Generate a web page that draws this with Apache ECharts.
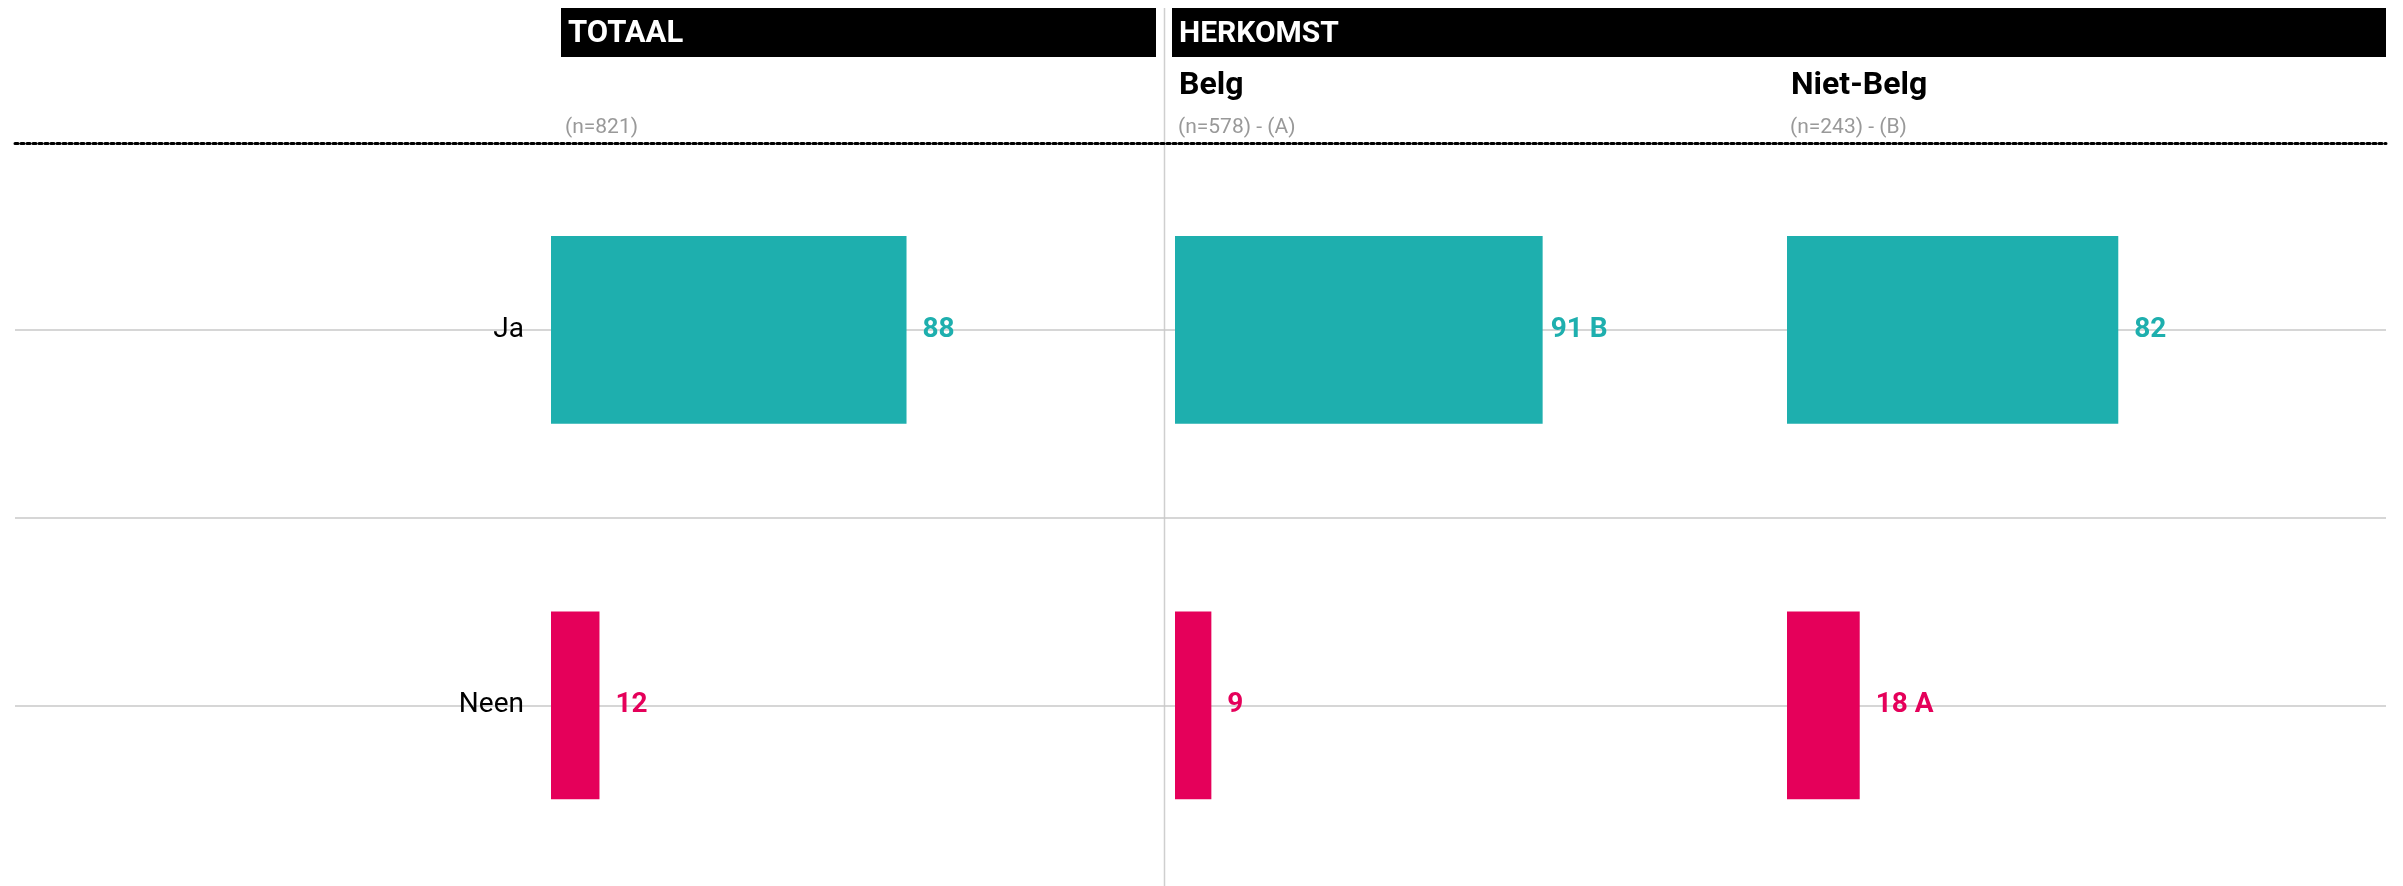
<!DOCTYPE html>
<html>
<head>
<meta charset="utf-8">
<script src="https://cdn.jsdelivr.net/npm/echarts@6/dist/echarts.min.js"></script>
<style>
html,body{margin:0;padding:0;background:#fff;}
#chart{width:2403px;height:886px;}
</style>
</head>
<body>
<div id="chart"></div>
<script>
// ---- data ----
const categories = ['Ja', 'Neen'];
const panelTitles = ['', 'Belg', 'Niet-Belg'];
const panelSubtitles = ['(n=821)', '(n=578) - (A)', '(n=243) - (B)'];
const groupHeaders = ['TOTAAL', 'HERKOMST'];
const totaalValues = [88, 12];
const belgValues = [91, 9];
const nietBelgValues = [82, 18];
const totaalSig = ['', ''];
const belgSig = ['B', ''];
const nietBelgSig = ['', 'A'];

// ---- style ----
const FONT = 'Roboto, "Noto Sans", sans-serif';
const catColors = ['#1EAFAE', '#E5005A'];
const panelLefts = [551, 1175, 1787];
const panelWidth = 404;
const gridTop = 142, gridHeight = 751;

const panels = [
  {values: totaalValues, sig: totaalSig},
  {values: belgValues, sig: belgSig},
  {values: nietBelgValues, sig: nietBelgSig}
];

const grids = [{left: 15, width: 2371, top: gridTop, height: gridHeight, outerBoundsMode: 'none', containLabel: false}];
const xAxes = [{
  gridIndex: 0, type: 'value', position: 'top', min: 0, max: 1, offset: -1.5,
  axisLine: {show: true, lineStyle: {color: '#000', width: 3, type: [3, 3]}},
  axisTick: {show: false}, axisLabel: {show: false}, splitLine: {show: false}
}];
const yAxes = [{
  gridIndex: 0, type: 'value', min: 0, max: 4, interval: 1, inverse: true,
  axisLine: {show: false}, axisTick: {show: false}, axisLabel: {show: false},
  splitLine: {show: true, showMinLine: false, showMaxLine: false, lineStyle: {color: '#c8c8c8', width: 1.5}}
}];
const series = [];

panels.forEach((p, i) => {
  const gi = i + 1;
  grids.push({left: panelLefts[i], width: panelWidth, top: gridTop, height: gridHeight, outerBoundsMode: 'none', containLabel: false});
  xAxes.push({gridIndex: gi, type: 'value', min: 0, max: 100, show: false});
  yAxes.push({
    gridIndex: gi, type: 'category', data: categories, inverse: true,
    axisLine: {show: false}, axisTick: {show: false}, splitLine: {show: false},
    axisLabel: {show: i === 0, color: '#000', fontSize: 28, fontFamily: FONT, margin: 27}
  });
  series.push({
    type: 'bar', xAxisIndex: gi, yAxisIndex: gi, barWidth: '50%',
    data: p.values.map((v, k) => ({
      value: v,
      itemStyle: {color: catColors[k]},
      label: {color: catColors[k], distance: (i === 1 && k === 0) ? 8 : 16}
    })),
    label: {
      show: true, position: 'right', fontSize: 28, fontWeight: 'bold', fontFamily: FONT,
      formatter: (d) => p.sig[d.dataIndex] ? d.value + ' ' + p.sig[d.dataIndex] : '' + d.value
    },
    silent: true, animation: false
  });
});

const graphic = [
  {type: 'rect', shape: {x: 561, y: 8, width: 595, height: 49}, style: {fill: '#000'}},
  {type: 'rect', shape: {x: 1172, y: 8, width: 1214, height: 49}, style: {fill: '#000'}},
  {type: 'text', left: 568, top: 19, style: {text: groupHeaders[0], fill: '#fff', font: 'bold 31px ' + FONT}},
  {type: 'text', left: 1179, top: 19, style: {text: groupHeaders[1], fill: '#fff', font: 'bold 30px ' + FONT}},
  {type: 'text', left: 1179, top: 70, style: {text: panelTitles[1], fill: '#000', font: 'bold 32px ' + FONT}},
  {type: 'text', left: 1791, top: 70, style: {text: panelTitles[2], fill: '#000', font: 'bold 32px ' + FONT}},
  {type: 'text', left: 565, top: 117, style: {text: panelSubtitles[0], fill: '#999', font: '21px ' + FONT}},
  {type: 'text', left: 1178, top: 117, style: {text: panelSubtitles[1], fill: '#999', font: '21px ' + FONT}},
  {type: 'text', left: 1790, top: 117, style: {text: panelSubtitles[2], fill: '#999', font: '21px ' + FONT}},
  {type: 'line', shape: {x1: 1164.5, y1: 8, x2: 1164.5, y2: 886}, style: {stroke: '#cfcfcf', lineWidth: 1.5}, z: -1}
];

const chart = echarts.init(document.getElementById('chart'));
chart.setOption({
  animation: false,
  grid: grids, xAxis: xAxes, yAxis: yAxes, series: series, graphic: graphic
});
</script>
</body>
</html>
